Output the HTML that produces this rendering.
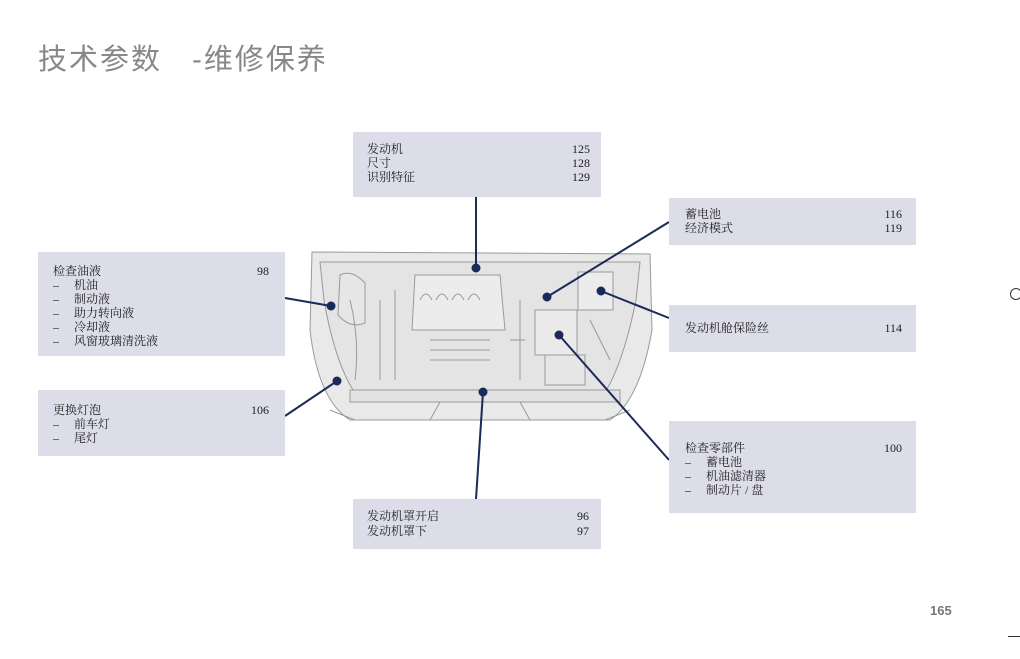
<!DOCTYPE html>
<html><head><meta charset="utf-8"><style>
html,body{margin:0;padding:0;background:#fff;}
body{width:1020px;height:659px;position:relative;overflow:hidden;font-family:"Liberation Serif","Noto Serif CJK SC",serif;}
.t{position:absolute;left:38px;top:36px;font-size:29px;color:#888;font-family:"Liberation Sans","Noto Sans CJK SC",sans-serif;letter-spacing:2px;white-space:pre;}
.b{position:absolute;background:#dcdde8;}
.l{position:absolute;font-size:12px;line-height:14px;color:#222;white-space:pre;}
.n{position:absolute;font-size:12px;line-height:14px;color:#222;text-align:right;width:60px;white-space:pre;}
.pg{position:absolute;left:930px;top:603px;font-size:13px;font-weight:bold;color:#777;font-family:"Liberation Sans",sans-serif;}
</style></head><body>
<div class="t">技术参数   -维修保养</div>

<svg style="position:absolute;left:0;top:0" width="1020" height="659">
 <g fill="#e9e9e9" stroke="#9a9a9a" stroke-width="1">
  <path d="M312 252 L650 254 L652 330 Q640 400 610 420 L350 420 Q318 400 310 330 Z"/>
  <path d="M320 262 L640 262 L636 300 Q622 370 600 400 L360 400 Q336 370 324 300 Z" fill="#e4e4e4"/>
  <path d="M415 275 L500 275 L505 330 L412 330 Z" fill="#ececec"/>
  <path d="M420 300 q6-12 12 0 M436 300 q6-12 12 0 M452 300 q6-12 12 0 M468 300 q6-12 12 0" fill="none"/>
  <rect x="535" y="310" width="42" height="45" fill="#eaeaea"/>
  <rect x="578" y="272" width="35" height="38" fill="#ececec"/>
  <rect x="545" y="355" width="40" height="30" fill="#e6e6e6"/>
  <path d="M350 390 L620 390 L620 402 L350 402 Z" fill="#e2e2e2"/>
  <path d="M340 275 q12-6 25 8 l0 40 q-15 6-27-8 Z" fill="#e6e6e6"/>
  <path d="M430 340 l60 0 M430 350 l60 0 M430 360 l60 0 M380 300 l0 80 M520 300 l0 80 M395 290 l0 90 M510 340 l15 0 M590 320 l20 40 M350 300 q10 40 5 80" fill="none"/>
  <path d="M330 410 L355 420 M630 410 L605 420 M440 402 L430 420 M520 402 L530 420" fill="none"/>
 </g>
 <g stroke="#1b2a58" stroke-width="2" fill="#1b2a58">
  <line x1="476" y1="197" x2="476" y2="268"/><circle cx="476" cy="268" r="3.5"/>
  <line x1="669" y1="222" x2="547" y2="297"/><circle cx="547" cy="297" r="3.5"/>
  <line x1="285" y1="298" x2="331" y2="306"/><circle cx="331" cy="306" r="3.5"/>
  <line x1="669" y1="318" x2="601" y2="291"/><circle cx="601" cy="291" r="3.5"/>
  <line x1="285" y1="416" x2="337" y2="381"/><circle cx="337" cy="381" r="3.5"/>
  <line x1="669" y1="460" x2="559" y2="335"/><circle cx="559" cy="335" r="3.5"/>
  <line x1="476" y1="499" x2="483" y2="392"/><circle cx="483" cy="392" r="3.5"/>
 </g>
</svg>

<div class="b" style="left:353px;top:132px;width:248px;height:65px"></div>
<div class="l" style="left:367px;top:142px">发动机
尺寸
识别特征</div>
<div class="n" style="left:530px;top:142px">125
128
129</div>

<div class="b" style="left:669px;top:198px;width:247px;height:47px"></div>
<div class="l" style="left:685px;top:207px">蓄电池
经济模式</div>
<div class="n" style="left:842px;top:207px">116
119</div>

<div class="b" style="left:38px;top:252px;width:247px;height:104px"></div>
<div class="l" style="left:53px;top:264px">检查油液
–     机油
–     制动液
–     助力转向液
–     冷却液
–     风窗玻璃清洗液</div>
<div class="n" style="left:209px;top:264px">98</div>

<div class="b" style="left:669px;top:305px;width:247px;height:47px"></div>
<div class="l" style="left:685px;top:321px">发动机舱保险丝</div>
<div class="n" style="left:842px;top:321px">114</div>

<div class="b" style="left:38px;top:390px;width:247px;height:66px"></div>
<div class="l" style="left:53px;top:403px">更换灯泡
–     前车灯
–     尾灯</div>
<div class="n" style="left:209px;top:403px">106</div>

<div class="b" style="left:669px;top:421px;width:247px;height:92px"></div>
<div class="l" style="left:685px;top:441px">检查零部件
–     蓄电池
–     机油滤清器
–     制动片 / 盘</div>
<div class="n" style="left:842px;top:441px">100</div>

<div class="b" style="left:353px;top:499px;width:248px;height:50px"></div>
<div class="l" style="left:367px;top:509px;line-height:15px">发动机罩开启
发动机罩下</div>
<div class="n" style="left:529px;top:509px;line-height:15px">96
97</div>

<div class="pg">165</div>
<div style="position:absolute;left:1008px;top:636px;width:12px;height:1px;background:#333"></div>
<div style="position:absolute;left:1010px;top:288px;width:10px;height:10px;border:1px solid #333;border-radius:50%"></div>
</body></html>
